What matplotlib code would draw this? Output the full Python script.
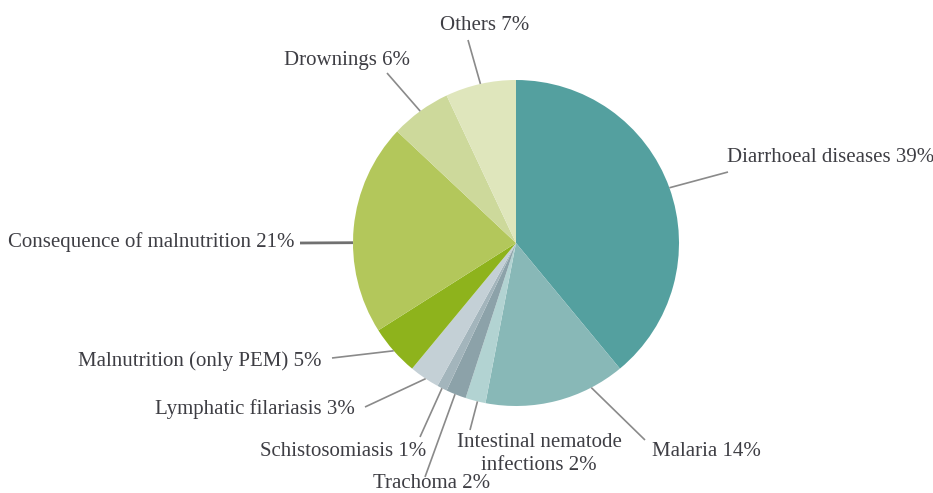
import numpy as np
import matplotlib
matplotlib.use("Agg")
import matplotlib.pyplot as plt

# Shares of deaths, clockwise from 12 o'clock
CATEGORIES = [
    "Diarrhoeal diseases", "Malaria", "Intestinal nematode\ninfections",
    "Trachoma", "Schistosomiasis", "Lymphatic filariasis",
    "Malnutrition (only PEM)", "Consequence of malnutrition",
    "Drownings", "Others",
]
SHARES = [39, 14, 2, 2, 1, 3, 5, 21, 6, 7]
COLORS = [
    "#54a09f", "#88b8b7", "#b2d3d2", "#8ca2a9", "#a3b5bc", "#c4d0d6",
    "#8eb31c", "#b3c75b", "#cdd99b", "#dfe6bc",
]

# Label layout in image pixels (x, y from top):
# anchor fraction inside wedge (clockwise), leader end point, text position, ha
LAYOUT = [
    (0.50, (728, 172), (727, 158), "left"),
    (0.24, (645, 440), (652, 452), "left"),
    (0.40, (470, 430), (539, 454), "center"),
    (0.55, (425, 477), (432, 484), "center"),
    (0.50, (420, 437), (343, 451), "center"),
    (0.45, (365, 407), (355, 409), "right"),
    (0.50, (332, 358), (322, 361), "right"),
    (0.43, (300, 243), (295, 242), "right"),
    (0.50, (387, 73), (347, 60), "center"),
    (0.50, (468, 40), (485, 25), "center"),
]

W, H = 933, 493
CX, CY, R = 516, 243, 163
TEXT_COLOR = "#3e3e44"
LINE_COLOR = "#8a8a8a"


def main():
    fig = plt.figure(figsize=(W / 100, H / 100), dpi=100)
    ax = fig.add_axes([0, 0, 1, 1])
    ax.pie(SHARES, colors=COLORS, startangle=90, counterclock=False,
           radius=R, center=(CX, H - CY),
           wedgeprops=dict(linewidth=0))
    ax.set_xlim(0, W)
    ax.set_ylim(0, H)
    ax.set_aspect("equal")
    ax.axis("off")

    total = float(sum(SHARES))
    start = 0.0
    for name, val, (frac, end, tpos, ha) in zip(CATEGORIES, SHARES, LAYOUT):
        pos = (start + frac * val) / total
        ang = np.deg2rad(90 - 360 * pos)
        x0 = CX + R * np.cos(ang)
        y0 = (H - CY) + R * np.sin(ang)
        lw = 2.0 if name.startswith("Consequence") else 1.2
        lc = "#707070" if name.startswith("Consequence") else LINE_COLOR
        ax.plot([x0, end[0]], [y0, H - end[1]], color=lc, lw=lw,
                solid_capstyle="butt")
        label = f"{name} {val}%"
        ax.text(tpos[0], H - tpos[1], label, ha=ha, va="center",
                fontsize=15, family="Liberation Serif", color=TEXT_COLOR,
                multialignment="center", linespacing=1.27)
        start += val

    fig.savefig("out.png", dpi=100)
    plt.close(fig)


if __name__ == "__main__":
    main()
